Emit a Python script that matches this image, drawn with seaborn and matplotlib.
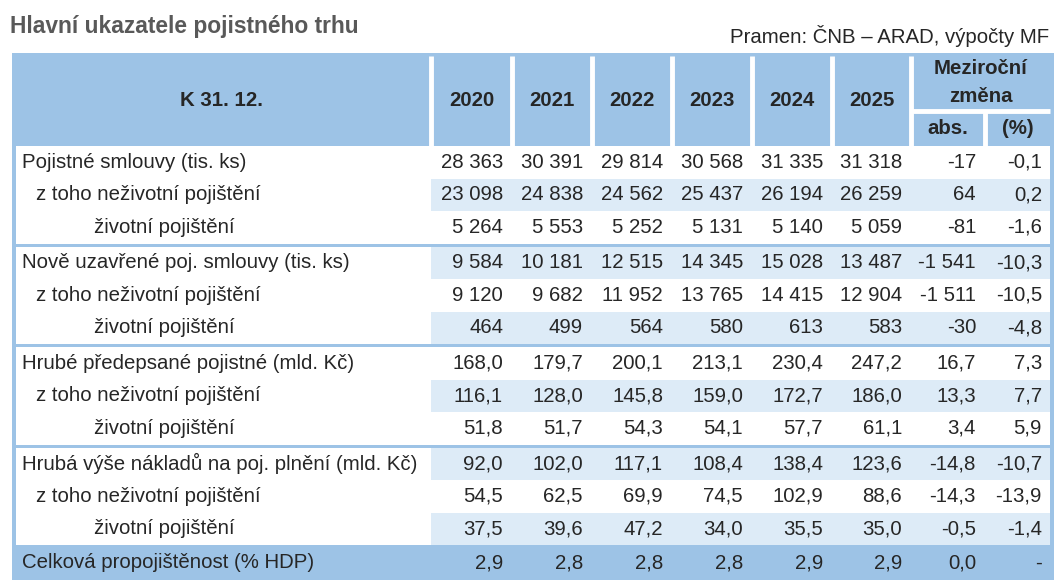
import matplotlib
matplotlib.use('Agg')
import matplotlib.pyplot as plt
from matplotlib.patches import Rectangle
import seaborn as sns

sns.set_theme(style="white")
plt.rcParams['font.family'] = ['Liberation Sans', 'DejaVu Sans']

title = "Hlavní ukazatele pojistného trhu"
source = "Pramen: ČNB – ARAD, výpočty MF"
years = ["2020", "2021", "2022", "2023", "2024", "2025"]

row_labels = [
    "Pojistné smlouvy (tis. ks)", "z toho neživotní pojištění", "životní pojištění",
    "Nově uzavřené poj. smlouvy (tis. ks)", "z toho neživotní pojištění", "životní pojištění",
    "Hrubé předepsané pojistné (mld. Kč)", "z toho neživotní pojištění", "životní pojištění",
    "Hrubá výše nákladů na poj. plnění (mld. Kč)", "z toho neživotní pojištění", "životní pojištění",
    "Celková propojištěnost (% HDP)",
]
row_levels = [0, 1, 2, 0, 1, 2, 0, 1, 2, 0, 1, 2, 0]
row_decimals = [0, 0, 0, 0, 0, 0, 1, 1, 1, 1, 1, 1, 1]

contracts = [28363, 30391, 29814, 30568, 31335, 31318]
contracts_nonlife = [23098, 24838, 24562, 25437, 26194, 26259]
contracts_life = [5264, 5553, 5252, 5131, 5140, 5059]
new_contracts = [9584, 10181, 12515, 14345, 15028, 13487]
new_nonlife = [9120, 9682, 11952, 13765, 14415, 12904]
new_life = [464, 499, 564, 580, 613, 583]
premiums = [168.0, 179.7, 200.1, 213.1, 230.4, 247.2]
premiums_nonlife = [116.1, 128.0, 145.8, 159.0, 172.7, 186.0]
premiums_life = [51.8, 51.7, 54.3, 54.1, 57.7, 61.1]
claims = [92.0, 102.0, 117.1, 108.4, 138.4, 123.6]
claims_nonlife = [54.5, 62.5, 69.9, 74.5, 102.9, 88.6]
claims_life = [37.5, 39.6, 47.2, 34.0, 35.5, 35.0]
penetration = [2.9, 2.8, 2.8, 2.8, 2.9, 2.9]

abs_change = [-17, 64, -81, -1541, -1511, -30, 16.7, 13.3, 3.4, -14.8, -14.3, -0.5, 0.0]
pct_change = [-0.1, 0.2, -1.6, -10.3, -10.5, -4.8, 7.3, 7.7, 5.9, -10.7, -13.9, -1.4, None]

values = [contracts, contracts_nonlife, contracts_life,
          new_contracts, new_nonlife, new_life,
          premiums, premiums_nonlife, premiums_life,
          claims, claims_nonlife, claims_life,
          penetration]


def fmt(v, dec):
    if v is None:
        return "-"
    return f"{v:,.{dec}f}".replace(",", " ").replace(".", ",")


# barvy
head_blue = "#9DC3E6"
light_blue = "#DDEBF7"

# rozlozeni v pixelech
col_edges = [12, 431, 512, 592, 672, 752, 832, 911, 985, 1054]
head_top, head_bot = 53, 146
row_h, sep = 32.5, 3
label_x = [22, 36, 94]
fs = 14.7

fig = plt.figure(figsize=(10.6, 5.83), dpi=100)
ax = fig.add_axes([0, 0, 1, 1])
ax.set_xlim(0, 1060)
ax.set_ylim(583, 0)
ax.axis('off')

# pozadi tabulky (modry ramecek)
row_tops = []
y = head_bot
for i in range(len(row_labels)):
    if i in (3, 6, 9):
        y += sep
    row_tops.append(y)
    y += row_h
table_bot = 580
ax.add_patch(Rectangle((col_edges[0], head_top), col_edges[-1] - col_edges[0], table_bot - head_top,
                       facecolor=head_blue, edgecolor='none'))

# telo tabulky
for i, top in enumerate(row_tops[:-1]):
    ax.add_patch(Rectangle((16, top), 1050 - 16, row_h, facecolor='white', edgecolor='none'))
    if i % 2 == 1:
        ax.add_patch(Rectangle((col_edges[1], top), 1050 - col_edges[1], row_h,
                               facecolor=light_blue, edgecolor='none'))

# bile cary v hlavicce
for x in col_edges[1:-2]:
    ax.plot([x, x], [head_top + 3, head_bot], color='white', lw=3.5, solid_capstyle='butt')
ax.plot([col_edges[-3], 1050], [111, 111], color='white', lw=3.5, solid_capstyle='butt')
ax.plot([col_edges[-2], col_edges[-2]], [111, head_bot], color='white', lw=3.5, solid_capstyle='butt')

# hlavicka
ax.text((col_edges[0] + col_edges[1]) / 2, 100, "K 31. 12.", ha='center', va='center',
        fontsize=fs, fontweight='bold')
for j, yr in enumerate(years):
    ax.text((col_edges[j + 1] + col_edges[j + 2]) / 2, 100, yr, ha='center', va='center',
            fontsize=fs, fontweight='bold')
mid = (col_edges[-3] + 1050) / 2
ax.text(mid, 69, "Meziroční", ha='center', va='center', fontsize=fs, fontweight='bold')
ax.text(mid, 96, "změna", ha='center', va='center', fontsize=fs, fontweight='bold')
ax.text((col_edges[-3] + col_edges[-2]) / 2, 128, "abs.", ha='center', va='center',
        fontsize=fs, fontweight='bold')
ax.text((col_edges[-2] + 1050) / 2, 128, "(%)", ha='center', va='center',
        fontsize=fs, fontweight='bold')

# radky
for i, lab in enumerate(row_labels):
    yc = row_tops[i] + row_h / 2 + (1.5 if i == len(row_labels) - 1 else 0)
    ax.text(label_x[row_levels[i]], yc, lab, ha='left', va='center', fontsize=fs)
    for j, v in enumerate(values[i]):
        ax.text(col_edges[j + 2] - 9, yc, fmt(v, row_decimals[i]), ha='right', va='center', fontsize=fs)
    ax.text(col_edges[-2] - 9, yc, fmt(abs_change[i], row_decimals[i]), ha='right', va='center', fontsize=fs)
    ax.text(1050 - 8, yc, fmt(pct_change[i], 1), ha='right', va='center', fontsize=fs)

# nadpis a zdroj
ax.text(10, 26, title, ha='left', va='center', fontsize=16.4, fontweight='bold', color='#595959')
ax.text(1049, 36, source, ha='right', va='center', fontsize=fs)

fig.savefig("out.png", dpi=100)
